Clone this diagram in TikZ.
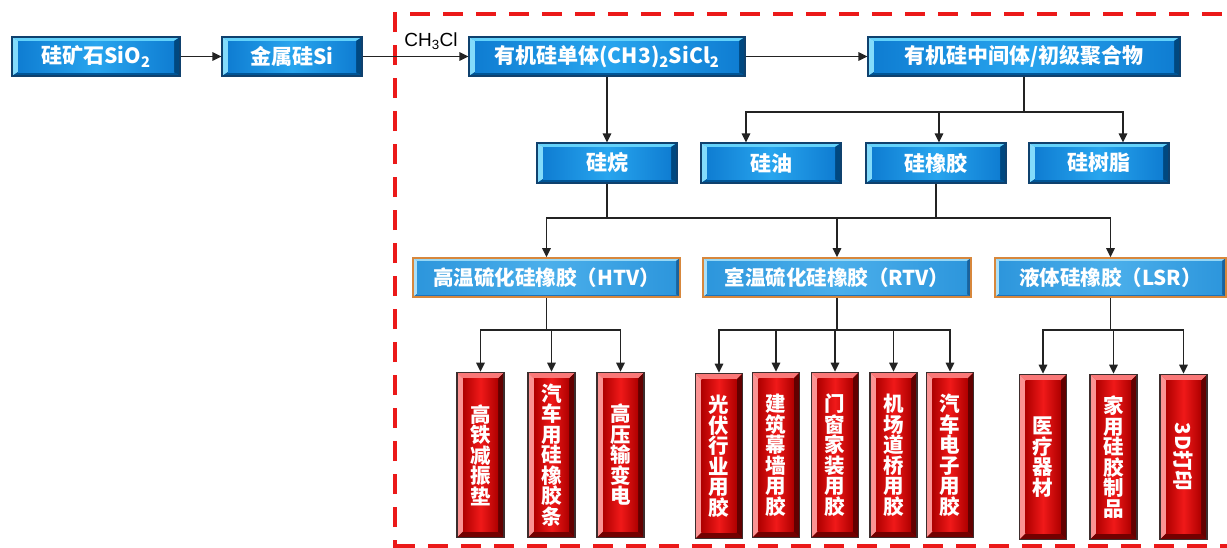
\documentclass[tikz,border=0pt]{standalone}
\usepackage{fontspec}
\setmainfont{Noto Sans CJK SC}
\newfontfamily\latinfont{Liberation Sans}
\usetikzlibrary{arrows.meta}
\definecolor{lineclr}{RGB}{35,35,35}
\definecolor{dashred}{RGB}{235,25,25}
\definecolor{bluebord}{RGB}{15,65,110}
\definecolor{bluemid}{RGB}{20,135,220}
\definecolor{bluelight}{RGB}{100,210,250}
\definecolor{bluedark}{RGB}{0,85,150}
\definecolor{blueface}{RGB}{15,125,210}
\definecolor{bluehi}{RGB}{40,165,238}
\definecolor{orangebord}{RGB}{215,135,60}
\definecolor{lbmid}{RGB}{55,160,225}
\definecolor{lblight}{RGB}{150,215,245}
\definecolor{lbdark}{RGB}{30,115,185}
\definecolor{lbface}{RGB}{45,150,220}
\definecolor{lbhi}{RGB}{75,175,235}
\definecolor{redbord}{RGB}{60,45,45}
\definecolor{redmid}{RGB}{200,0,0}
\definecolor{redlight}{RGB}{250,120,120}
\definecolor{reddark}{RGB}{115,0,0}
\definecolor{redface}{RGB}{175,0,0}
\definecolor{redhi}{RGB}{240,25,25}
% bevel drawing used inside path picture: #1 x inset, #2 y inset, #3 light, #4 dark, #5 face edge, #6 face middle
\newcommand\bevelpic[6]{%
  \path (path picture bounding box.south west) coordinate (qSW)
        (path picture bounding box.north east) coordinate (qNE)
        (path picture bounding box.north west) coordinate (qNW)
        (path picture bounding box.south east) coordinate (qSE);
  \path ([shift={(#1,#2)}]qSW) coordinate (iSW)
        ([shift={(-#1,-#2)}]qNE) coordinate (iNE)
        ([shift={(#1,-#2)}]qNW) coordinate (iNW)
        ([shift={(-#1,#2)}]qSE) coordinate (iSE);
  \fill[#3] (qNW) -- (qNE) -- (iNE) -- (iNW) -- cycle;
  \fill[#3!80!white] (qSW) -- (qNW) -- (iNW) -- (iSW) -- cycle;
  \fill[#4] (qSW) -- (qSE) -- (iSE) -- (iSW) -- cycle;
  \fill[#4!85!black] (qSE) -- (qNE) -- (iNE) -- (iSE) -- cycle;
  \shade[left color=#5, right color=#5, middle color=#6] (iSW) rectangle (iNE);
}
\tikzset{
  conn/.style={draw=lineclr, line width=1.6pt},
  arr/.style={conn, -{Triangle[length=9pt,width=8.5pt]}},
  reddash/.style={draw=dashred, line width=4pt, dash pattern=on 20pt off 13pt},
  bluebox/.style={draw=bluebord, line width=1.2pt, fill=bluemid, inner sep=0pt,
    text=white, font=\bfseries\fontsize{21}{21}\selectfont,
    path picture={\bevelpic{6pt}{4pt}{bluelight}{bluedark}{blueface}{bluehi}}},
  lbbox/.style={draw=orangebord, line width=1.6pt, fill=lbmid, inner sep=0pt,
    text=white, font=\bfseries\fontsize{20.5}{20.5}\selectfont,
    minimum height=39pt,
    path picture={\bevelpic{4pt}{3pt}{lblight}{lbdark}{lbface}{lbhi}}},
  redbox/.style={draw=redbord, line width=1.8pt, fill=redmid, inner sep=0pt,
    text=white, font=\bfseries\fontsize{20.5}{20.5}\selectfont, align=center,
    minimum width=47pt, minimum height=165pt,
    path picture={\bevelpic{6pt}{6pt}{redlight}{reddark}{redface}{redhi}}},
  lbl/.style={font=\latinfont\fontsize{19}{19}\selectfont, text=black, inner sep=0pt}
}
\begin{document}
\begin{tikzpicture}[x=1pt,y=-1pt]
\useasboundingbox[fill=white] (0,0) rectangle (1227,547);
% red dashed frame
\draw[reddash] (395,560) -- (395,14) -- (1240,14);
\draw[reddash] (395,546) -- (1240,546);
% top row
\node[bluebox, minimum width=168pt, minimum height=39pt] (ore) at (96,56.5) {硅矿石SiO\textsubscript{2}};
\node[bluebox, minimum width=140pt, minimum height=39pt] (si) at (292,56.5) {金属硅Si};
\node[bluebox, minimum width=276pt, minimum height=39pt] (mono) at (607,56.5) {有机硅单体(CH3)\textsubscript{2}SiCl\textsubscript{2}};
\node[bluebox, minimum width=312pt, minimum height=39pt] (inter) at (1024,56.5) {有机硅中间体/初级聚合物};
% second row
\node[bluebox, minimum width=140pt, minimum height=40pt] (silane) at (607,163) {硅烷};
\node[bluebox, minimum width=140pt, minimum height=40pt] (oil) at (771,163) {硅油};
\node[bluebox, minimum width=140pt, minimum height=40pt] (rubber) at (936,163) {硅橡胶};
\node[bluebox, minimum width=140pt, minimum height=40pt] (resin) at (1099,163) {硅树脂};
% third row
\node[lbbox, minimum width=267pt] (htv) at (546.5,277.5) {高温硫化硅橡胶（HTV）};
\node[lbbox, minimum width=268pt] (rtv) at (837,277.5) {室温硫化硅橡胶（RTV）};
\node[lbbox, minimum width=231pt] (lsr) at (1110.5,277.5) {液体硅橡胶（LSR）};
% red applications
\node[redbox] (r1) at (480.5,455) {高\\铁\\减\\振\\垫};
\node[redbox] (r2) at (551.5,455) {汽\\车\\用\\硅\\橡\\胶\\条};
\node[redbox] (r3) at (620.5,455) {高\\压\\输\\变\\电};
\node[redbox] (r4) at (719,456) {光\\伏\\行\\业\\用\\胶};
\node[redbox] (r5) at (776,455) {建\\筑\\幕\\墙\\用\\胶};
\node[redbox] (r6) at (835,455) {门\\窗\\家\\装\\用\\胶};
\node[redbox] (r7) at (893.5,455) {机\\场\\道\\桥\\用\\胶};
\node[redbox] (r8) at (950,455) {汽\\车\\电\\子\\用\\胶};
\node[redbox] (r9) at (1043,457) {医\\疗\\器\\材};
\node[redbox] (r10) at (1113.5,457) {家\\用\\硅\\胶\\制\\品};
\node[redbox] (r11) at (1183.5,457) {\rotatebox{-90}{3D打印}};
% top connectors
\draw[arr] (ore) -- (si);
\draw[arr] (si) -- (mono);
\node[lbl] (ch3cl) at (431,41) {CH\textsubscript{3}Cl};
\draw[arr] (mono) -- (inter);
\draw[arr] (mono) -- (silane);
% intermediate branches
\coordinate (b1) at (1024,112);
\draw[conn] (inter) -- (b1);
\draw[arr] (b1) -| ([xshift=-25pt]oil.north);
\draw[arr] (b1) -| ([xshift=24pt]resin.north);
\draw[arr] ([xshift=3pt]rubber.north |- b1) -- ([xshift=3pt]rubber.north);
% to rubber types
\coordinate (b2) at (607,218);
\coordinate (b3) at (936,218);
\draw[conn] (silane) -- (b2);
\draw[conn] (rubber) -- (b3);
\draw[conn] (b2) -- (b3);
\draw[arr] (b2) -| (htv.north);
\draw[arr] (b3) -| (lsr.north);
\draw[arr] (rtv.north |- b2) -- (rtv.north);
% HTV applications
\draw[conn] (htv.south) -- ++(0,32) coordinate (c1);
\draw[arr] (c1) -| (r1.north);
\draw[arr] (c1) -| (r3.north);
\draw[arr] (r2.north |- c1) -- (r2.north);
% RTV applications
\draw[conn] (rtv.south) -- ++(0,32) coordinate (c2);
\draw[arr] (c2) -| (r4.north);
\draw[arr] (c2) -| (r8.north);
\draw[arr] (r5.north |- c2) -- (r5.north);
\draw[arr] (r6.north |- c2) -- (r6.north);
\draw[arr] (r7.north |- c2) -- (r7.north);
% LSR applications
\draw[conn] (lsr.south) -- ++(0,32) coordinate (c3);
\draw[arr] (c3) -| (r9.north);
\draw[arr] (c3) -| (r11.north);
\draw[arr] (r10.north |- c3) -- (r10.north);
\end{tikzpicture}
\end{document}
